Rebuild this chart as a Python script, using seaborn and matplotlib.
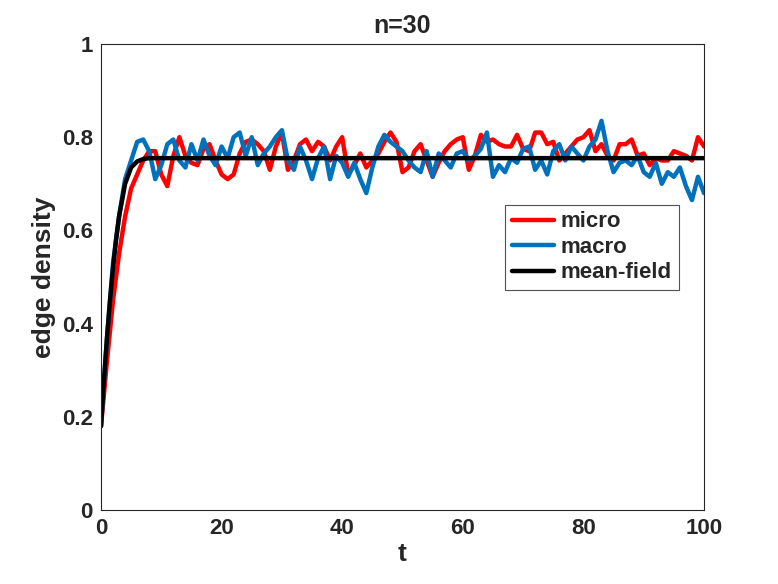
import matplotlib
matplotlib.use('Agg')
import matplotlib.pyplot as plt
import numpy as np
import pandas as pd
import seaborn as sns

# time grid (one reading per unit of t)
t = list(range(0, 101))

micro = [
    0.18, 0.32, 0.45, 0.55, 0.63, 0.69, 0.72, 0.75, 0.77, 0.77,
    0.72, 0.695, 0.76, 0.80, 0.76, 0.745, 0.74, 0.775, 0.785, 0.75,
    0.72, 0.71, 0.72, 0.765, 0.79, 0.795, 0.785, 0.77, 0.73, 0.78,
    0.81, 0.73, 0.75, 0.785, 0.795, 0.77, 0.79, 0.78, 0.75, 0.78,
    0.80, 0.72, 0.74, 0.765, 0.735, 0.75, 0.765, 0.79, 0.81, 0.79,
    0.725, 0.735, 0.77, 0.785, 0.75, 0.715, 0.745, 0.77, 0.785, 0.795,
    0.80, 0.73, 0.76, 0.805, 0.79, 0.795, 0.785, 0.78, 0.78, 0.805,
    0.775, 0.77, 0.81, 0.81, 0.785, 0.79, 0.75, 0.765, 0.78, 0.795,
    0.80, 0.815, 0.77, 0.785, 0.76, 0.75, 0.785, 0.785, 0.795, 0.76,
    0.765, 0.74, 0.755, 0.75, 0.75, 0.77, 0.765, 0.76, 0.75, 0.80,
    0.78,
]

macro = [
    0.18, 0.37, 0.53, 0.63, 0.71, 0.75, 0.79, 0.795, 0.77, 0.71,
    0.74, 0.785, 0.795, 0.75, 0.735, 0.785, 0.75, 0.795, 0.76, 0.74,
    0.78, 0.755, 0.80, 0.81, 0.76, 0.80, 0.74, 0.765, 0.78, 0.80,
    0.815, 0.75, 0.73, 0.78, 0.75, 0.71, 0.755, 0.78, 0.71, 0.76,
    0.745, 0.715, 0.745, 0.71, 0.68, 0.735, 0.78, 0.805, 0.79, 0.78,
    0.77, 0.75, 0.735, 0.725, 0.77, 0.715, 0.765, 0.75, 0.735, 0.765,
    0.77, 0.75, 0.76, 0.775, 0.81, 0.715, 0.74, 0.725, 0.755, 0.745,
    0.775, 0.78, 0.73, 0.75, 0.72, 0.77, 0.785, 0.75, 0.78, 0.765,
    0.75, 0.78, 0.795, 0.835, 0.77, 0.725, 0.745, 0.75, 0.74, 0.76,
    0.725, 0.715, 0.745, 0.70, 0.725, 0.715, 0.735, 0.695, 0.665, 0.715,
    0.68,
]

# mean-field curve: read at early times, flat afterwards
mf_t = [0, 0.5, 1, 1.5, 2, 2.5, 3, 4, 5, 6, 7, 8, 10, 100]
mf_val = [0.18, 0.28, 0.37, 0.45, 0.52, 0.58, 0.63, 0.70, 0.735, 0.748, 0.753, 0.755, 0.755, 0.755]

sns.set_style('white')
plt.rcParams['font.family'] = ['Liberation Sans', 'DejaVu Sans']
plt.rcParams['font.weight'] = 'bold'

fig = plt.figure(figsize=(7.78, 5.84), dpi=100)
ax = fig.add_axes([0.1298, 0.1267, 0.7751, 0.7980])

sns.lineplot(x=t, y=micro, color='#ff0000', lw=3.2, label='micro', ax=ax)
sns.lineplot(x=t, y=macro, color='#0072bd', lw=3.2, label='macro', ax=ax)
sns.lineplot(x=mf_t, y=mf_val, color='black', lw=3.2, label='mean-field', ax=ax)

ax.set_xlim(0, 100)
ax.set_ylim(0, 1)
ax.set_xticks([0, 20, 40, 60, 80, 100])
ax.set_yticks([0, 0.2, 0.4, 0.6, 0.8, 1])
ax.set_yticklabels(['0', '0.2', '0.4', '0.6', '0.8', '1'])
ax.tick_params(direction='in', length=5, width=0.8, colors='#262626',
               labelsize=16, pad=6)
for lab in ax.get_xticklabels() + ax.get_yticklabels():
    lab.set_fontweight('bold')
    lab.set_color('#262626')
for s in ax.spines.values():
    s.set_color('#262626')
    s.set_linewidth(0.8)
    s.set_visible(True)

ax.set_xlabel('t', fontsize=19, fontweight='bold', color='#262626', labelpad=2)
ax.set_ylabel('edge density', fontsize=19, fontweight='bold', color='#262626', labelpad=4)
ax.set_title('n=30', fontsize=18, fontweight='bold', pad=8)

leg = ax.legend(loc='upper right', bbox_to_anchor=(0.958, 0.655),
                fontsize=16, frameon=True, fancybox=False, handlelength=1.9,
                borderpad=0.3, labelspacing=0.2, handletextpad=0.3,
                borderaxespad=0)
leg.get_frame().set_edgecolor('#262626')
leg.get_frame().set_linewidth(0.8)
for txt in leg.get_texts():
    txt.set_fontweight('bold')

fig.savefig('out.png', dpi=100)
